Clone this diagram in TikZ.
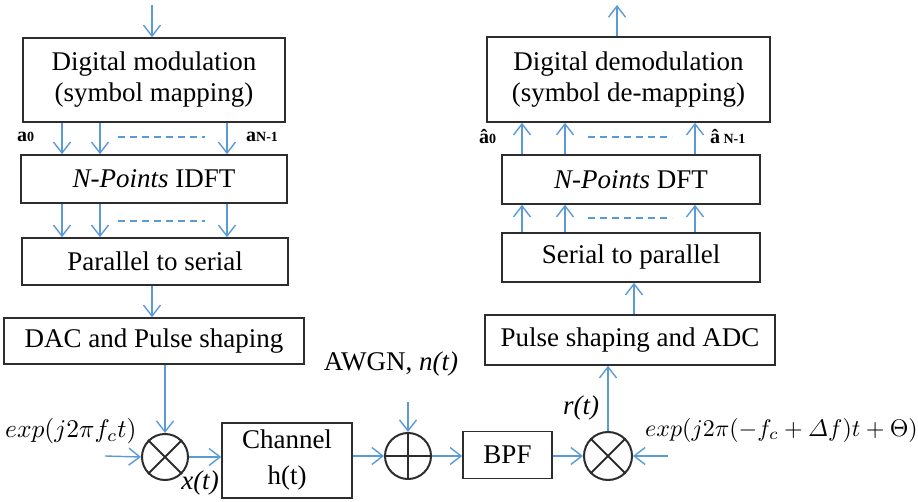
\documentclass[tikz,border=0pt]{standalone}
\usepackage{amsmath}
\usepackage{fontspec}
\setmainfont{Liberation Serif}
\usetikzlibrary{arrows.meta,calc}
\definecolor{linkblue}{RGB}{91,155,213}
\definecolor{edgegray}{RGB}{45,45,45}
\begin{document}
\begin{tikzpicture}[x=1pt,y=-1pt,
  arr/.style={draw=linkblue, line width=1.4pt,
    -{Straight Barb[length=11pt,width=17pt,line width=1.4pt]}},
  dots/.style={draw=linkblue, line width=1.4pt, dash pattern=on 7pt off 5pt},
  blockbox/.style={draw=edgegray, line width=1.6pt, rectangle, inner sep=0pt,
    align=center, font=\fontsize{27}{31}\selectfont},
  mixer/.style={draw=edgegray, line width=2pt, circle, minimum size=46pt, inner sep=0pt},
  mark line/.style={draw=edgegray, line width=2pt},
  lbl/.style={inner sep=0pt, font=\fontsize{27}{31}\selectfont},
  eqn/.style={inner sep=0pt, font=\normalsize},
  idx/.style={inner sep=0pt, font=\fontsize{20}{22}\selectfont\bfseries}]

\useasboundingbox (0,0) rectangle (918,502);

% ---------- transmitter ----------
\node[blockbox, minimum width=262pt, minimum height=84pt] (mod) at (154,80)
  {Digital modulation\\(symbol mapping)};
\node[blockbox, minimum width=266pt, minimum height=48pt] (idft) at (154,179)
  {\textit{N-Points} IDFT};
\node[blockbox, minimum width=266pt, minimum height=47pt] (p2s) at (155,261.5)
  {Parallel to serial};
\node[blockbox, minimum width=300pt, minimum height=46pt] (dac) at (154,341)
  {DAC and Pulse shaping};
\node[mixer] (mix1) at (165,457) {};
\node[blockbox, minimum width=130pt, minimum height=75pt,
  font=\fontsize{27}{36}\selectfont] (chan) at (287,460.5) {Channel\\h(t)};
\node[mixer] (add) at (408,456) {};
\node[blockbox, minimum width=89pt, minimum height=47pt] (bpf) at (507.5,455) {BPF};
\node[mixer, minimum size=48pt] (mix2) at (608,456) {};

% ---------- receiver ----------
\node[blockbox, minimum width=290pt, minimum height=50pt] (adc) at (630,340)
  {Pulse shaping and ADC};
\node[blockbox, minimum width=258pt, minimum height=49pt] (s2p) at (631,257.5)
  {Serial to parallel};
\node[blockbox, minimum width=258pt, minimum height=49pt] (dft) at (631,179.5)
  {\textit{N-Points} DFT};
\node[blockbox, minimum width=283pt, minimum height=85pt] (demod) at (628.5,79.5)
  {Digital demodulation\\(symbol de-mapping)};

% mixer and adder symbols
\draw[mark line] (mix1.45) -- (mix1.225) (mix1.135) -- (mix1.315);
\draw[mark line] (mix2.45) -- (mix2.225) (mix2.135) -- (mix2.315);
\draw[mark line] (add.north) -- (add.south) (add.west) -- (add.east);

% free ends
\coordinate (src) at (152,5);
\coordinate (sink) at (617,5);
\coordinate (lo1) at (105,456);
\coordinate (lo2) at (668,456);
\coordinate (noise) at (408,402);

% transmitter connectors
\draw[arr] (src) -- (src |- mod.north);
\foreach \xx in {62,100,227} {
  \draw[arr] (mod.south -| \xx,0) -- (idft.north -| \xx,0);
  \draw[arr] (idft.south -| \xx,0) -- (p2s.north -| \xx,0);
}
\draw[dots] (118,137) -- (205,137);
\draw[dots] (118,221) -- (205,221);
\draw[arr] (p2s.south -| 152,0) -- (dac.north -| 152,0);
\draw[arr] (dac.south -| mix1.north) -- (mix1.north);
\draw[arr] (lo1) -- (mix1.west);
\draw[arr] (mix1.east) -- (mix1.east -| chan.west);
\draw[arr] (chan.east |- add.west) -- (add.west);
\draw[arr] (noise) -- (add.north);
\draw[arr] (add.east) -- (add.east -| bpf.west);
\draw[arr] (bpf.east |- mix2.west) -- (mix2.west);

% receiver connectors
\draw[arr] (lo2) -- (mix2.east);
\draw[arr] (mix2.north) -- (mix2.north |- adc.south);
\draw[arr] (adc.north -| 634,0) -- (s2p.south -| 634,0);
\foreach \xx in {522,565,695} {
  \draw[arr] (s2p.north -| \xx,0) -- (dft.south -| \xx,0);
  \draw[arr] (dft.north -| \xx,0) -- (demod.south -| \xx,0);
}
\draw[dots] (588,137) -- (672,137);
\draw[dots] (588,218) -- (672,218);
\draw[arr] (demod.north -| sink) -- (sink);

% labels
\node[idx, anchor=west] (a0) at (17,137) {a{\fontsize{14}{16}\selectfont 0}};
\node[idx, anchor=west] (aN) at (246,137) {a{\fontsize{14}{16}\selectfont N-1}};
\node[idx, anchor=west] (ah0) at (479,137) {â{\fontsize{14}{16}\selectfont 0}};
\node[idx, anchor=west] (ahN) at (710,137) {â\,{\fontsize{14}{16}\selectfont N-1}};

\node[eqn, anchor=west] (car1) at (5,431)
  {\scalebox{2.55}{$exp(j2\pi f_c t)$}};
\node[eqn, anchor=west] (car2) at (645,430)
  {\scalebox{2.4}{$exp(j2\pi(-f_c+\varDelta f)t+\Theta)$}};
\node[lbl] (xt) at (200,483) {\textit{x(t)}};
\node[lbl] (rt) at (581,408) {\textit{r(t)}};
\node[lbl] (awgn) at (391,364) {AWGN, \textit{n(t)}};

\end{tikzpicture}
\end{document}
